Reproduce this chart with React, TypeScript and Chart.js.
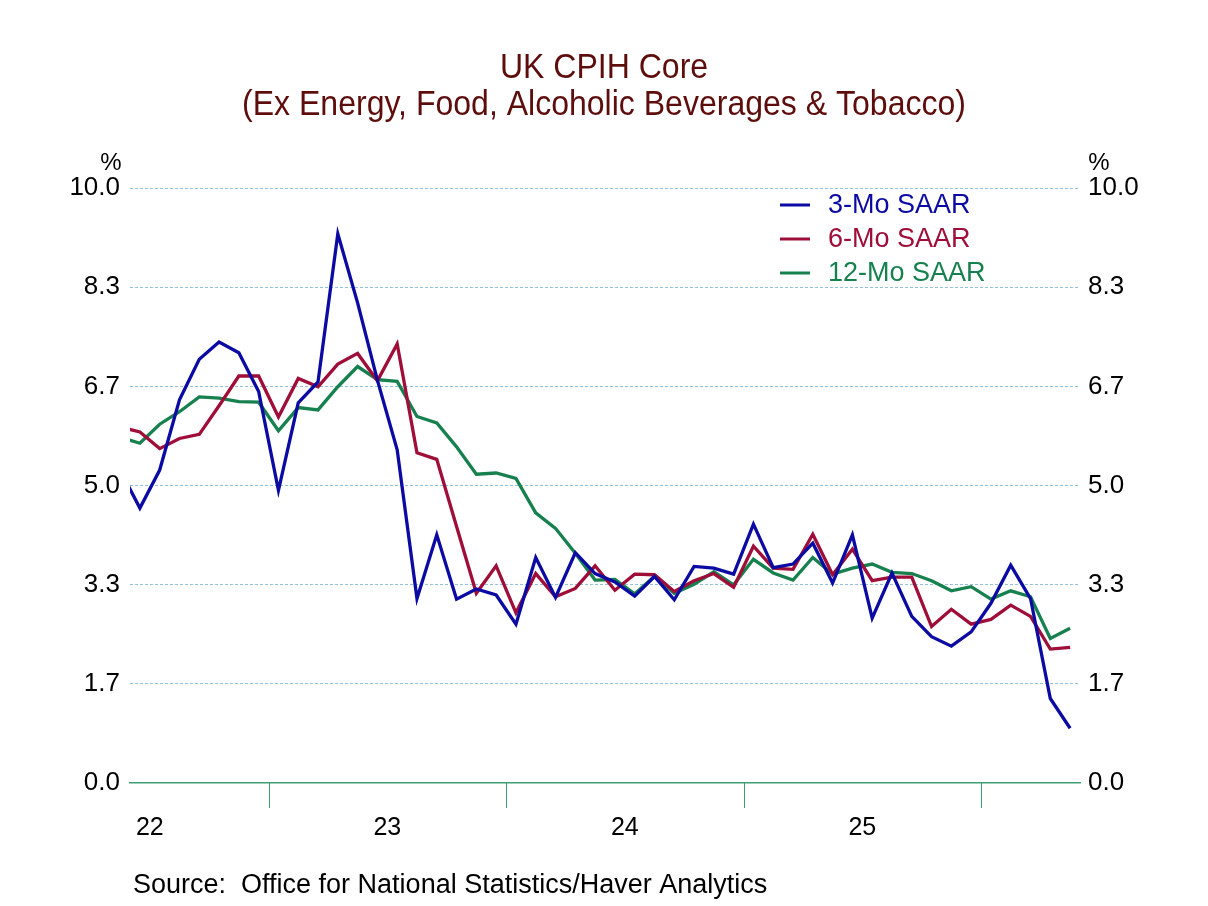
import React, { useEffect, useRef } from "react";
import { Chart, registerables } from "chart.js";

Chart.register(...registerables);

// Monthly observations (May 2022 is just left of the visible window)
const months = [
  "2022-05", "2022-06", "2022-07", "2022-08", "2022-09", "2022-10", "2022-11", "2022-12",
  "2023-01", "2023-02", "2023-03", "2023-04", "2023-05", "2023-06", "2023-07", "2023-08", "2023-09", "2023-10", "2023-11", "2023-12",
  "2024-01", "2024-02", "2024-03", "2024-04", "2024-05", "2024-06", "2024-07", "2024-08", "2024-09", "2024-10", "2024-11", "2024-12",
  "2025-01", "2025-02", "2025-03", "2025-04", "2025-05", "2025-06", "2025-07", "2025-08", "2025-09", "2025-10", "2025-11", "2025-12",
  "2026-01", "2026-02", "2026-03", "2026-04", "2026-05",
];

const saar3 = [
  5.26, 4.62, 5.26, 6.44, 7.12, 7.41, 7.23, 6.58,
  4.92, 6.39, 6.74, 9.23, 8.07, 6.77, 5.60, 3.10, 4.17, 3.09, 3.26, 3.16,
  2.67, 3.79, 3.12, 3.87, 3.52, 3.38, 3.14, 3.47, 3.08, 3.64, 3.61, 3.51,
  4.35, 3.62, 3.68, 4.03, 3.36, 4.17, 2.77, 3.53, 2.80, 2.46, 2.30, 2.54,
  3.02, 3.66, 3.10, 1.42, 0.92,
];

const saar6 = [
  5.98, 5.90, 5.62, 5.79, 5.86, 6.34, 6.84, 6.84,
  6.15, 6.80, 6.66, 7.04, 7.22, 6.76, 7.38, 5.55, 5.44, 4.31, 3.19, 3.65,
  2.86, 3.52, 3.13, 3.27, 3.65, 3.24, 3.51, 3.50, 3.22, 3.40, 3.52, 3.29,
  3.98, 3.61, 3.59, 4.18, 3.50, 3.93, 3.40, 3.46, 3.46, 2.63, 2.92, 2.67,
  2.75, 2.99, 2.80, 2.25, 2.28,
];

const saar12 = [
  5.81, 5.71, 6.03, 6.24, 6.49, 6.47, 6.41, 6.40,
  5.92, 6.31, 6.27, 6.66, 7.00, 6.78, 6.75, 6.16, 6.05, 5.65, 5.19, 5.21,
  5.12, 4.54, 4.28, 3.86, 3.41, 3.42, 3.18, 3.47, 3.19, 3.34, 3.55, 3.33,
  3.76, 3.53, 3.41, 3.79, 3.51, 3.61, 3.68, 3.54, 3.52, 3.40, 3.23, 3.30,
  3.09, 3.23, 3.13, 2.43, 2.60,
];

const seriesNames = ["3-Mo SAAR", "6-Mo SAAR", "12-Mo SAAR"];
const yearLabels = ["22", "23", "24", "25"];
const yearNumbers = [2022, 2023, 2024, 2025];
const yTickLabels = ["0.0", "1.7", "3.3", "5.0", "6.7", "8.3", "10.0"];
const yTickValues = [0, 10 / 6, 20 / 6, 5, 40 / 6, 50 / 6, 10];
const titleLines = ["UK CPIH Core", "(Ex Energy, Food, Alcoholic Beverages & Tobacco)"];
const sourceText = "Source:  Office for National Statistics/Haver Analytics";

const BASE_YEAR = 2022;
const X_MIN_MONTH = "2022-06";
const X_MAX_MONTH = "2026-06";

const BLUE = "#0b0ba3";
const RED = "#9e0e38";
const GREEN = "#17804f";
const AXIS_GREEN = "#3d9f72";
const GRID = "#94c0dc";
const TITLE_COLOR = "#5e0d0d";
const FONT = "'Liberation Sans', Arial, Helvetica, sans-serif";

const monthToX = (m: string, mid: boolean) => {
  const [y, mo] = m.split("-").map(Number);
  return (y - BASE_YEAR) * 12 + (mo - 1) + (mid ? 0.5 : 0);
};

const pts = (vals: number[]) => vals.map((v, i) => ({ x: monthToX(months[i], true), y: v }));

const decorPlugin = {
  id: "decor",
  afterDraw(chart: any) {
    const ctx = chart.ctx as CanvasRenderingContext2D;
    const area = chart.chartArea;
    const xs = chart.scales.x;
    const yl = chart.scales.y;
    ctx.save();

    // year boundary tick marks
    ctx.strokeStyle = AXIS_GREEN;
    ctx.lineWidth = 1;
    yearNumbers.forEach((yr) => {
      const v = (yr + 1 - BASE_YEAR) * 12;
      if (v <= xs.min || v >= xs.max) return;
      const px = Math.round(xs.getPixelForValue(v)) + 0.5;
      ctx.beginPath();
      ctx.moveTo(px, area.bottom);
      ctx.lineTo(px, area.bottom + 25);
      ctx.stroke();
    });

    // title
    ctx.fillStyle = TITLE_COLOR;
    ctx.textAlign = "center";
    ctx.textBaseline = "middle";
    ctx.font = `35px ${FONT}`;
    const cx = chart.width / 2;
    [68, 105].forEach((ty, i) => {
      ctx.save();
      ctx.translate(cx, ty);
      ctx.scale(0.915, 1);
      ctx.fillText(titleLines[i], 0, 0);
      ctx.restore();
    });

    // % unit markers
    ctx.fillStyle = "#000";
    ctx.font = `24px ${FONT}`;
    const topY = yl.getPixelForValue(10);
    ctx.fillText("%", area.left - 19, topY - 25);
    ctx.fillText("%", area.right + 19, topY - 25);

    // source
    ctx.textAlign = "left";
    ctx.font = `27px ${FONT}`;
    ctx.fillText(sourceText, 133, 886);

    // legend
    const colors = chart.data.datasets.map((d: any) => d.borderColor);
    ctx.font = `27px ${FONT}`;
    chart.data.datasets.forEach((d: any, i: number) => {
      const ly = 205 + i * 34;
      ctx.strokeStyle = colors[i];
      ctx.lineWidth = 3;
      ctx.beginPath();
      ctx.moveTo(780, ly);
      ctx.lineTo(810, ly);
      ctx.stroke();
      ctx.fillStyle = colors[i];
      ctx.fillText(d.label, 828, ly + 1);
    });

    ctx.restore();
  },
};

export default function App() {
  const ref = useRef<HTMLCanvasElement | null>(null);

  useEffect(() => {
    document.body.style.margin = "0";
    const canvas = ref.current;
    if (!canvas) return;

    const yScaleCommon = {
      type: "linear" as const,
      min: 0,
      max: 10,
      afterBuildTicks: (s: any) => {
        s.ticks = yTickValues.map((v) => ({ value: v }));
      },
      ticks: {
        callback: (_v: any, i: number) => yTickLabels[i],
        font: { family: FONT, size: 26 },
        color: "#000",
        padding: 10,
      },
      border: { display: false, dash: [3, 2] },
    };

    const chart = new Chart(canvas, {
      type: "line",
      data: {
        datasets: [
          { label: seriesNames[0], data: pts(saar3), borderColor: BLUE, borderWidth: 3.3, pointRadius: 0, tension: 0, fill: false },
          { label: seriesNames[1], data: pts(saar6), borderColor: RED, borderWidth: 3.3, pointRadius: 0, tension: 0, fill: false },
          { label: seriesNames[2], data: pts(saar12), borderColor: GREEN, borderWidth: 3.3, pointRadius: 0, tension: 0, fill: false },
        ],
      },
      options: {
        animation: false,
        responsive: false,
        devicePixelRatio: 1,
        layout: { padding: { top: 188, bottom: 0, left: 0, right: 0 } },
        plugins: {
          legend: { display: false },
          title: { display: false },
          tooltip: { enabled: false },
        },
        scales: {
          x: {
            type: "linear",
            position: "bottom",
            min: monthToX(X_MIN_MONTH, false),
            max: monthToX(X_MAX_MONTH, false),
            afterBuildTicks: (s: any) => {
              s.ticks = yearNumbers.map((yr) => ({ value: (yr - BASE_YEAR) * 12 + 6 }));
            },
            ticks: {
              callback: (_v: any, i: number) => yearLabels[i],
              font: { family: FONT, size: 25 },
              color: "#000",
              padding: 22,
              maxRotation: 0,
              autoSkip: false,
            },
            grid: { display: false },
            border: { display: true, color: AXIS_GREEN, width: 1.5 },
            afterFit: (s: any) => {
              s.height = 123;
            },
          },
          y: {
            ...yScaleCommon,
            position: "left",
            grid: {
              color: (c: any) => (c.tick && c.tick.value === 0 ? "rgba(0,0,0,0)" : GRID),
              lineWidth: 1,
              drawTicks: false,
            },
            afterFit: (s: any) => {
              s.width = 130;
            },
          },
          y2: {
            ...yScaleCommon,
            position: "right",
            grid: { drawOnChartArea: false, drawTicks: false },
            ticks: { ...yScaleCommon.ticks, padding: 8 },
            afterFit: (s: any) => {
              s.width = 128;
            },
          },
        },
      } as any,
      plugins: [decorPlugin],
    });

    return () => chart.destroy();
  }, []);

  return (
    <div style={{ width: 1208, height: 906, background: "#fff" }}>
      <canvas ref={ref} width={1208} height={906} style={{ display: "block", width: 1208, height: 906 }} />
    </div>
  );
}
